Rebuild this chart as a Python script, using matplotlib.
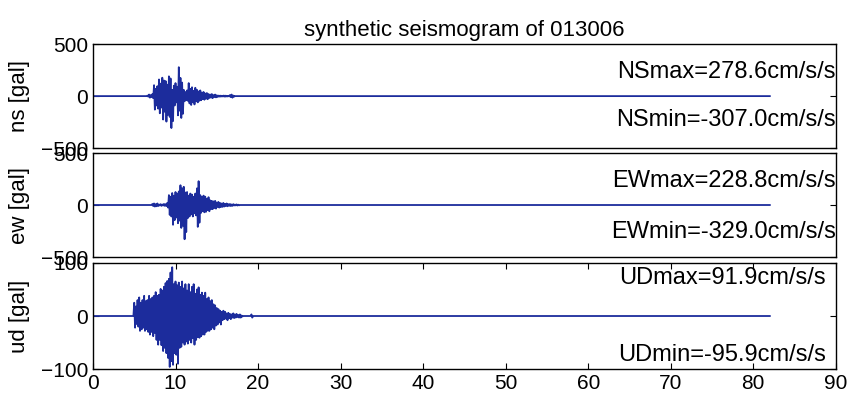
import matplotlib
matplotlib.use('Agg')
import matplotlib.pyplot as plt
import numpy as np

plt.rcParams['font.family'] = ['Liberation Sans', 'DejaVu Sans']

# envelope peaks, one pair every 0.2 s
ns_start = 6.6
ns_hi = [5, 15, 10, 20, 105, 70, 95, 160, 120, 177, 150, 145, 110, 190, 170, 60, 100, 125, 90, 278,
         175, 130, 60, 40, 55, 125, 70, 85, 50, 80, 60, 45, 55, 35, 40, 25, 30, 20, 15, 20,
         10, 15, 8, 5, 5, 3, 5, 5, 3, 3, 10, 15, 5, 0]
ns_lo = [-5, -15, -10, -20, -130, -90, -120, -165, -110, -225, -150, -245, -180, -200, -307, -240, -90, -60, -185, -140,
         -210, -170, -50, -40, -45, -70, -85, -60, -80, -50, -60, -45, -40, -30, -35, -25, -30, -18, -15, -20,
         -10, -12, -8, -5, -5, -3, -5, -5, -3, -3, -10, -15, -5, 0]

ew_start = 7.2
ew_hi = [10, 15, 8, 15, 5, 8, 5, 10, 8, 20, 95, 80, 115, 90, 125, 110, 130, 190, 160, 175,
         120, 125, 90, 110, 100, 80, 110, 160, 229, 95, 80, 90, 80, 60, 75, 45, 40, 35, 40, 25,
         30, 20, 15, 20, 10, 15, 8, 10, 5, 8, 4, 6, 3, 0]
ew_lo = [-10, -15, -12, -10, -5, -8, -5, -8, -10, -25, -95, -110, -190, -145, -120, -175, -150, -220, -200, -329,
         -260, -125, -110, -90, -110, -80, -100, -210, -170, -75, -60, -70, -65, -50, -60, -40, -40, -30, -35, -20,
         -25, -20, -18, -15, -10, -12, -8, -10, -8, -5, -4, -5, -3, 0]

ud_start = 5.0
ud_hi = [25, 18, 30, 35, 25, 30, 38, 28, 30, 38, 32, 35, 38, 45, 38, 40, 51, 48, 55, 62,
         66, 70, 82, 91.9, 60, 65, 58, 63, 55, 65, 52, 60, 48, 60, 45, 55, 60, 42, 50, 54,
         40, 44, 38, 44, 32, 35, 28, 30, 22, 20, 15, 13, 10, 8, 10, 8, 5, 6, 4, 3,
         5, 3, 4, 2, 3, 1, 0, 0, 0, 0, 0, 3, 0]
ud_lo = [-22, -15, -20, -28, -25, -22, -28, -25, -30, -35, -30, -38, -32, -45, -54, -45, -55, -66, -60, -70,
         -79, -95.9, -85, -92, -70, -73, -90, -60, -58, -50, -54, -48, -52, -45, -50, -42, -54, -45, -40, -41,
         -38, -35, -35, -30, -28, -28, -25, -22, -25, -18, -16, -12, -16, -8, -6, -5, -8, -4, -6, -3,
         -4, -3, -2, -3, -3, -1, 0, 0, 0, 0, 0, -3, 0]

t_end = 82.0

components = ['ns', 'ew', 'ud']
starts = [ns_start, ew_start, ud_start]
his = [ns_hi, ew_hi, ud_hi]
los = [ns_lo, ew_lo, ud_lo]
ylims = [500, 500, 100]
max_labels = ['NSmax=278.6cm/s/s', 'EWmax=228.8cm/s/s', 'UDmax=91.9cm/s/s']
min_labels = ['NSmin=-307.0cm/s/s', 'EWmin=-329.0cm/s/s', 'UDmin=-95.9cm/s/s']
text_y = [(0.47, -0.45), (0.47, -0.52), (0.72, -0.73)]
text_x = [90.0, 90.0, 88.8]

fig = plt.figure(figsize=(8.49, 3.96), dpi=100)
boxes = [[0.1095, 0.626, 0.875, 0.2626],
         [0.1095, 0.351, 0.875, 0.2626],
         [0.1095, 0.068, 0.875, 0.268]]

for i, comp in enumerate(components):
    ax = fig.add_axes(boxes[i])
    hi = np.array(his[i], dtype=float)
    lo = np.array(los[i], dtype=float)
    t = starts[i] + 0.2 * np.arange(len(hi))
    tt = np.empty(2 * len(t))
    yy = np.empty(2 * len(t))
    tt[0::2] = t
    tt[1::2] = t + 0.1
    yy[0::2] = hi
    yy[1::2] = lo
    tt = np.concatenate([[0.0, starts[i] - 0.1], tt, [t_end]])
    yy = np.concatenate([[0.0, 0.0], yy, [0.0]])
    ax.plot(tt, yy, color='#1c2c9c', lw=1.3)

    ym = ylims[i]
    ax.set_xlim(0, 90)
    ax.set_ylim(-ym, ym)
    ax.set_yticks([-ym, 0, ym])
    ax.set_ylabel(comp + ' [gal]', fontsize=16, labelpad=8)
    ax.tick_params(direction='in', labelsize=15, right=True, top=True, length=4)
    if i < 2:
        ax.set_xticks([])
    else:
        ax.set_xticks(np.arange(0, 91, 10))
    ax.text(text_x[i], text_y[i][0] * ym, max_labels[i], ha='right', va='center', fontsize=17)
    ax.text(text_x[i], text_y[i][1] * ym, min_labels[i], ha='right', va='center', fontsize=17)
    for s in ax.spines.values():
        s.set_linewidth(1.0)
    if i == 0:
        ax.set_title('synthetic seismogram of 013006', fontsize=16, pad=6)

fig.savefig('out.png', dpi=100)
